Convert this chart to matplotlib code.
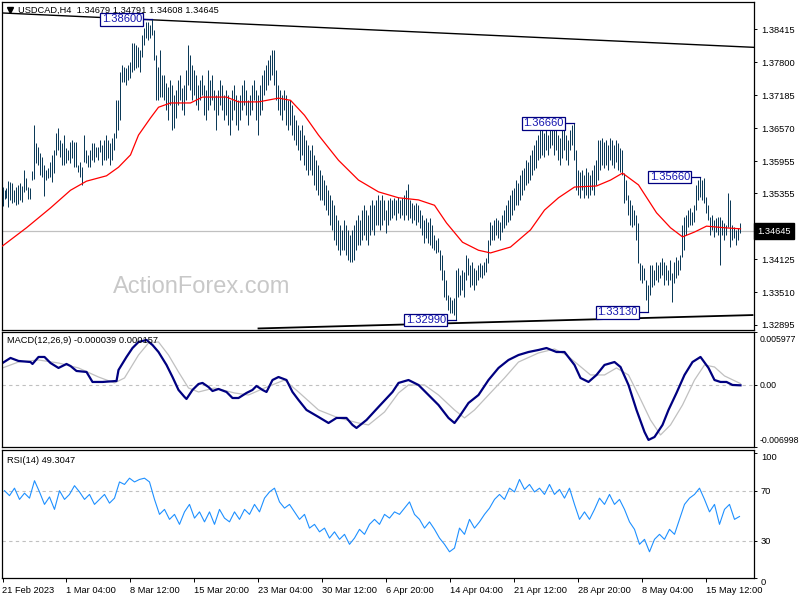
import numpy as np
import matplotlib
matplotlib.use("Agg")
import matplotlib.pyplot as plt
from matplotlib.transforms import blended_transform_factory, ScaledTranslation

plt.rcParams['font.family'] = ['Liberation Sans', 'DejaVu Sans']

symbol_title = "USDCAD,H4  1.34679 1.34791 1.34608 1.34645"
macd_title = "MACD(12,26,9) -0.000039 0.000157"
rsi_title = "RSI(14) 49.3047"
watermark = "ActionForex.com"
last_price = 1.34645

high = [
 1.3547,1.3541,1.3545,1.3558,1.3556,1.3554,1.3541,1.3547,1.3551,1.3554,1.3549,1.3579,1.3564,1.3547,1.3545,1.3577,
 1.3663,1.3629,1.3622,1.3611,1.3603,1.3588,1.3579,1.3583,1.3594,1.3607,1.3616,1.3648,1.3657,1.3635,1.3629,1.3644,
 1.3620,1.3616,1.3631,1.3635,1.3631,1.3631,1.3588,1.3594,1.3584,1.3644,1.3616,1.3607,1.3616,1.3629,1.3629,1.3622,
 1.3622,1.3635,1.3625,1.3635,1.3644,1.3635,1.3629,1.3638,1.3648,1.3709,1.3709,1.3762,1.3775,1.3771,1.3769,1.3775,
 1.3780,1.3816,1.3816,1.3812,1.3808,1.3803,1.3831,1.3844,1.3855,1.3855,1.3850,1.3860,1.3840,1.3794,1.3771,1.3803,
 1.3756,1.3756,1.3741,1.3734,1.3747,1.3737,1.3719,1.3728,1.3747,1.3756,1.3732,1.3737,1.3765,1.3812,1.3794,1.3775,
 1.3765,1.3756,1.3737,1.3747,1.3756,1.3737,1.3728,1.3765,1.3747,1.3756,1.3728,1.3719,1.3728,1.3747,1.3737,1.3719,
 1.3728,1.3719,1.3709,1.3728,1.3737,1.3719,1.3709,1.3719,1.3737,1.3747,1.3728,1.3709,1.3719,1.3737,1.3747,1.3728,
 1.3719,1.3737,1.3756,1.3765,1.3775,1.3784,1.3794,1.3803,1.3803,1.3765,1.3737,1.3728,1.3719,1.3728,1.3719,1.3709,
 1.3709,1.3700,1.3681,1.3672,1.3663,1.3653,1.3663,1.3644,1.3635,1.3625,1.3616,1.3625,1.3607,1.3597,1.3588,1.3579,
 1.3569,1.3560,1.3551,1.3541,1.3532,1.3523,1.3513,1.3495,1.3485,1.3476,1.3467,1.3485,1.3476,1.3467,1.3457,1.3467,
 1.3476,1.3485,1.3495,1.3485,1.3504,1.3513,1.3504,1.3495,1.3513,1.3523,1.3513,1.3523,1.3532,1.3523,1.3532,1.3523,
 1.3504,1.3523,1.3527,1.3523,1.3527,1.3523,1.3528,1.3523,1.3527,1.3532,1.3541,1.3553,1.3523,1.3517,1.3513,1.3517,
 1.3513,1.3504,1.3495,1.3485,1.3489,1.3482,1.3489,1.3476,1.3457,1.3448,1.3452,1.3429,1.3420,1.3392,1.3373,1.3345,
 1.3342,1.3336,1.3340,1.3392,1.3396,1.3383,1.3392,1.3388,1.3420,1.3414,1.3401,1.3407,1.3396,1.3392,1.3401,1.3405,
 1.3401,1.3407,1.3414,1.3448,1.3482,1.3476,1.3485,1.3489,1.3485,1.3482,1.3495,1.3504,1.3513,1.3523,1.3532,1.3541,
 1.3545,1.3560,1.3554,1.3569,1.3579,1.3583,1.3597,1.3594,1.3607,1.3616,1.3625,1.3635,1.3644,1.3653,1.3657,1.3648,
 1.3653,1.3644,1.3657,1.3663,1.3653,1.3657,1.3644,1.3638,1.3653,1.3657,1.3644,1.3635,1.3653,1.3663,1.3666,1.3616,
 1.3579,1.3575,1.3579,1.3569,1.3583,1.3575,1.3569,1.3579,1.3588,1.3597,1.3635,1.3635,1.3638,1.3631,1.3635,1.3625,
 1.3638,1.3635,1.3625,1.3635,1.3629,1.3620,1.3616,1.3573,1.3560,1.3532,1.3523,1.3513,1.3504,1.3495,1.3480,1.3405,
 1.3401,1.3396,1.3373,1.3364,1.3401,1.3401,1.3392,1.3407,1.3401,1.3407,1.3414,1.3407,1.3401,1.3392,1.3411,1.3387,
 1.3407,1.3416,1.3411,1.3420,1.3476,1.3491,1.3495,1.3504,1.3508,1.3500,1.3513,1.3551,1.3560,1.3566,1.3560,1.3564,
 1.3528,1.3513,1.3491,1.3495,1.3485,1.3489,1.3491,1.3491,1.3485,1.3480,1.3476,1.3536,1.3523,1.3476,1.3472,1.3467,
 1.3471,1.34791]

low = [
 1.3512,1.3525,1.3527,1.3510,1.3523,1.3517,1.3519,1.3513,1.3515,1.3523,1.3519,1.3538,1.3541,1.3525,1.3525,1.3560,
 1.3562,1.3592,1.3588,1.3569,1.3566,1.3530,1.3560,1.3564,1.3566,1.3556,1.3573,1.3607,1.3616,1.3603,1.3588,1.3588,
 1.3592,1.3597,1.3592,1.3601,1.3584,1.3584,1.3575,1.3566,1.3551,1.3594,1.3592,1.3584,1.3584,1.3597,1.3594,1.3603,
 1.3597,1.3612,1.3588,1.3597,1.3597,1.3601,1.3588,1.3597,1.3616,1.3638,1.3653,1.3672,1.3743,1.3743,1.3737,1.3747,
 1.3750,1.3762,1.3765,1.3769,1.3771,1.3762,1.3790,1.3812,1.3825,1.3822,1.3825,1.3831,1.3784,1.3709,1.3709,1.3715,
 1.3715,1.3709,1.3691,1.3672,1.3700,1.3653,1.3657,1.3676,1.3700,1.3709,1.3691,1.3681,1.3709,1.3737,1.3728,1.3709,
 1.3719,1.3700,1.3691,1.3709,1.3719,1.3681,1.3672,1.3691,1.3700,1.3709,1.3691,1.3653,1.3681,1.3700,1.3691,1.3672,
 1.3681,1.3663,1.3644,1.3672,1.3691,1.3663,1.3653,1.3672,1.3691,1.3700,1.3681,1.3663,1.3681,1.3691,1.3709,1.3672,
 1.3644,1.3681,1.3691,1.3719,1.3728,1.3737,1.3747,1.3756,1.3737,1.3709,1.3691,1.3681,1.3672,1.3691,1.3663,1.3653,
 1.3663,1.3644,1.3635,1.3625,1.3616,1.3597,1.3607,1.3588,1.3579,1.3569,1.3579,1.3569,1.3551,1.3541,1.3532,1.3523,
 1.3523,1.3513,1.3504,1.3495,1.3476,1.3467,1.3448,1.3439,1.3429,1.3420,1.3429,1.3429,1.3420,1.3411,1.3407,1.3407,
 1.3411,1.3429,1.3439,1.3439,1.3448,1.3457,1.3448,1.3439,1.3457,1.3467,1.3457,1.3476,1.3476,1.3467,1.3476,1.3485,
 1.3461,1.3476,1.3485,1.3489,1.3495,1.3485,1.3499,1.3489,1.3495,1.3485,1.3495,1.3485,1.3489,1.3480,1.3485,1.3476,
 1.3482,1.3471,1.3457,1.3442,1.3452,1.3442,1.3439,1.3433,1.3429,1.3424,1.3426,1.3392,1.3373,1.3342,1.3336,1.3317,
 1.3312,1.3312,1.3308,1.3299,1.3342,1.3345,1.3355,1.3342,1.3373,1.3383,1.3360,1.3364,1.3355,1.3364,1.3373,1.3379,
 1.3377,1.3383,1.3388,1.3405,1.3439,1.3448,1.3448,1.3457,1.3452,1.3448,1.3463,1.3471,1.3476,1.3482,1.3485,1.3495,
 1.3504,1.3513,1.3513,1.3523,1.3532,1.3541,1.3551,1.3554,1.3560,1.3569,1.3579,1.3583,1.3597,1.3601,1.3607,1.3603,
 1.3616,1.3607,1.3620,1.3625,1.3607,1.3616,1.3597,1.3588,1.3601,1.3616,1.3597,1.3588,1.3616,1.3625,1.3597,1.3541,
 1.3532,1.3527,1.3541,1.3527,1.3532,1.3527,1.3532,1.3541,1.3532,1.3551,1.3560,1.3579,1.3588,1.3583,1.3588,1.3579,
 1.3597,1.3588,1.3583,1.3594,1.3579,1.3575,1.3569,1.3517,1.3523,1.3495,1.3476,1.3472,1.3476,1.3448,1.3405,1.3373,
 1.3368,1.3373,1.3336,1.3313,1.3345,1.3360,1.3364,1.3373,1.3370,1.3377,1.3383,1.3364,1.3373,1.3364,1.3373,1.3332,
 1.3368,1.3377,1.3383,1.3392,1.3416,1.3429,1.3457,1.3472,1.3476,1.3476,1.3482,1.3504,1.3523,1.3528,1.3523,1.3517,
 1.3499,1.3485,1.3457,1.3467,1.3454,1.3463,1.3457,1.3401,1.3457,1.3448,1.3457,1.3472,1.3435,1.3448,1.3452,1.3439,
 1.3448,1.34608]

ma_bar = [0,12,24,34,42,52,58,64,68,74,78,84,94,100,112,118,128,138,144,151,
          158,168,178,188,198,208,216,222,230,238,244,254,264,271,278,286,297,304,310,318,
          327,334,340,346,352,361,369]
ma_val = [1.3437,1.3471,1.3508,1.3541,1.3558,1.3568,1.3584,1.3607,1.3644,1.3676,
          1.3696,1.3704,1.3704,1.3715,1.3715,1.3706,1.3706,1.3713,1.3709,1.3681,
          1.3644,1.3597,1.3560,1.3538,1.3527,1.3523,1.3513,1.3480,1.3444,1.3429,
          1.3424,1.3435,1.3467,1.3504,1.3527,1.3547,1.3549,1.3560,1.3573,1.3551,
          1.3499,1.3471,1.3454,1.3463,1.3474,1.3471,1.3469]

macd_bar = [0,4,8,14,15,18,21,24,28,32,34,37,42,45,50,57,58,62,65,68,
            72,75,78,82,85,88,91,92,95,98,100,103,105,108,112,115,118,122,125,127,
            130,132,135,138,142,145,148,152,158,163,167,172,175,177,182,188,195,198,203,208,
            213,218,223,226,229,233,238,243,248,253,258,263,268,272,277,281,286,289,293,297,
            301,306,309,313,317,321,323,326,330,333,337,341,345,349,353,356,359,362,365,369]
macd_val = [0.00248,0.00305,0.00271,0.00259,0.00237,0.00316,0.00316,0.00248,0.00192,0.00237,
            0.00214,0.00158,0.00147,0.00034,0.00034,0.00045,0.00169,0.00316,0.00417,0.00485,
            0.00508,0.00451,0.00372,0.00226,0.00090,-0.00056,-0.00135,-0.00158,-0.00056,0.00011,
            0.00023,-0.00023,-0.00068,-0.00045,-0.00079,-0.00147,-0.00147,-0.00090,-0.00056,-0.00011,
            -0.00056,-0.00079,0.00056,0.00090,0.00056,-0.00079,-0.00169,-0.00282,-0.00361,-0.00429,
            -0.00372,-0.00372,-0.00451,-0.00485,-0.00395,-0.00248,-0.00079,0.00023,0.00056,0.0,
            -0.00113,-0.00226,-0.00372,-0.00429,-0.00338,-0.00203,-0.00113,0.00056,0.00192,0.00282,
            0.00338,0.00372,0.00395,0.00417,0.00372,0.00372,0.00226,0.00079,0.00034,0.00113,
            0.00226,0.00259,0.00203,0.0,-0.00282,-0.00530,-0.00620,-0.00587,-0.00451,-0.00282,
            -0.00090,0.00113,0.00259,0.00316,0.00192,0.00056,0.00034,0.00034,0.0,-0.000039]

sig_bar = [0,8,18,28,38,48,56,61,68,73,78,83,88,93,98,106,116,123,131,141,
           148,158,168,178,183,191,198,203,211,218,226,231,236,243,251,258,268,276,282,288,
           294,301,307,313,318,324,329,334,340,346,351,356,361,369]
sig_val = [0.00192,0.00259,0.00282,0.00248,0.00192,0.00090,0.00023,0.00079,0.00338,0.00474,
           0.00485,0.00338,0.00147,-0.00034,-0.00079,-0.00034,-0.00090,-0.00113,-0.00034,0.00056,
           -0.00079,-0.00282,-0.00372,-0.00429,-0.00451,-0.00305,-0.00090,0.0,0.0,-0.00113,
           -0.00282,-0.00372,-0.00282,-0.00113,0.00079,0.00259,0.00361,0.00406,0.00338,0.00226,
           0.00113,0.00113,0.00192,0.00113,-0.00113,-0.00395,-0.00564,-0.00451,-0.00226,0.00056,
           0.00226,0.00203,0.00102,0.000157]

rsi_val = [70,66,72,63,68,64,78,69,59,65,55,70,63,67,74,69,63,67,59,63,
           67,60,64,77,75,80,77,79,80,77,63,51,55,47,51,43,53,59,48,53,
           45,53,43,55,48,45,53,47,55,51,59,53,64,69,72,61,56,59,53,47,
           51,40,43,37,40,32,37,31,35,27,32,39,35,43,47,43,51,48,53,51,
           56,61,51,47,40,45,39,32,27,21,24,40,35,47,40,45,51,56,63,67,
           63,72,69,79,71,75,69,72,67,75,67,71,64,72,59,47,53,47,55,64,
           59,67,59,63,55,45,39,27,31,21,31,35,31,39,35,47,59,64,67,72,
           63,53,59,43,55,59,47,49.3047]

price_ticks = [1.38415, 1.37800, 1.37185, 1.36570, 1.35955, 1.35355,
               1.34740, 1.34125, 1.33510, 1.32895]
date_labels = ['21 Feb 2023', '1 Mar 04:00', '8 Mar 12:00', '15 Mar 20:00',
               '23 Mar 04:00', '30 Mar 12:00', '6 Apr 20:00', '14 Apr 04:00',
               '21 Apr 12:00', '28 Apr 20:00', '8 May 04:00', '15 May 12:00']
date_bars = [0, 32, 64, 96, 128, 160, 192, 224, 256, 288, 320, 352]

swing_bar = [75, 227, 286, 323, 349]
swing_price = [1.38600, 1.32990, 1.36660, 1.33130, 1.35660]

upper_line = [(0, 1.3872), (369, 1.3809)]
lower_line = [(128, 1.3283), (375, 1.3308)]

macd_levels = [0.005977, 0.0, -0.006998]
rsi_levels = [100, 70, 30, 0]

# ---------------------------------------------------------------
W, H = 800, 600
fig = plt.figure(figsize=(8, 6), dpi=100)
fig.patch.set_facecolor('white')


def rect(x0, y0, x1, y1):
    return [x0 / W, 1 - y1 / H, (x1 - x0) / W, (y1 - y0) / H]


ax = fig.add_axes(rect(2, 2, 754, 330))
axm = fig.add_axes(rect(2, 332, 754, 447))
axr = fig.add_axes(rect(2, 450, 754, 578))

FS = 6.7
BAR_C = '#0c3a58'
for a in (ax, axm, axr):
    a.set_xlim(-0.25, 375.75)
    for s in a.spines.values():
        s.set_color('black')
        s.set_linewidth(0.9)
    a.tick_params(axis='y', left=False, right=True, labelleft=False,
                  labelright=True, direction='out', length=2.5, width=0.7,
                  labelsize=FS, pad=2.5, colors='black')
    a.tick_params(axis='x', bottom=False, labelbottom=False)

# ---- main price panel
n = len(high)
idx = np.arange(n)
ax.set_ylim(1.32801, 1.38925)
ax.set_yticks(price_ticks)
ax.set_yticklabels([f'{v:.5f}' for v in price_ticks])

ax.text(0.265, 0.131, watermark, transform=ax.transAxes, fontsize=17,
        color='#c8c8c8', ha='center', va='center', zorder=0)

ax.axhline(last_price, color='#c0c0c0', lw=0.9, zorder=1)
ax.vlines(idx, low, high, colors=BAR_C, lw=0.72, zorder=3)
ax.plot(ma_bar, ma_val, color='red', lw=0.9, zorder=4)

ax.axline(upper_line[0], upper_line[1], color='black', lw=1.0, zorder=2)
lx = [lower_line[0][0], lower_line[1][0]]
ly = [lower_line[0][1], lower_line[1][1]]
ax.plot(lx, ly, color='black', lw=1.3, zorder=2, clip_on=True)

for b, p in zip(swing_bar, swing_price):
    ax.plot([b - 5, b], [p, p], color='#000080', lw=0.9, zorder=5)
    ax.text(b - 5.3, p, f'{p:.5f}', ha='right', va='center', fontsize=8,
            color='#1515b0', zorder=6,
            bbox=dict(boxstyle='square,pad=0.12', fc='white', ec='#000080', lw=0.9))

tr = blended_transform_factory(ax.transAxes, ax.transData)
ax.text(1.004, last_price, f'{last_price:.5f}', transform=tr, ha='left',
        va='center', color='white', fontsize=FS, clip_on=False, zorder=20,
        bbox=dict(boxstyle='square,pad=0.35', fc='black', ec='black'))

fig.text(18 / W, 1 - 10 / H, symbol_title, fontsize=FS, color='black',
         ha='left', va='center')
ax.plot([0.010], [0.975], marker='v', ms=4, color='black',
        transform=ax.transAxes, clip_on=False)

# ---- MACD panel
axm.set_ylim(-0.006998, 0.005977)
axm.axhline(0, color='#c0c0c0', lw=0.8, ls=(0, (3, 3)))
axm.plot(sig_bar, sig_val, color='#c0c0c0', lw=0.9)
axm.plot(macd_bar, macd_val, color='#000080', lw=1.6)
axm.set_yticks(macd_levels)
axm.set_yticklabels(['0.005977', '0.00', '-0.006998'])
axm.tick_params(axis='y', labelsize=6.3, pad=1.5)
labs = axm.get_yticklabels()
labs[0].set_va('top')
labs[0].set_transform(labs[0].get_transform() +
                      ScaledTranslation(0, -2.5 / 72, fig.dpi_scale_trans))
labs[2].set_va('bottom')
labs[2].set_transform(labs[2].get_transform() +
                      ScaledTranslation(0, 1.5 / 72, fig.dpi_scale_trans))
axm.text(0.007, 0.93, macd_title, transform=axm.transAxes, fontsize=FS,
         ha='left', va='center', color='black')

# ---- RSI panel
axr.set_ylim(0, 102.6)
for lv in (70, 30):
    axr.axhline(lv, color='#c0c0c0', lw=0.8, ls=(0, (3, 3)))
rsi_bar = np.linspace(1, 368.5, len(rsi_val))
axr.plot(rsi_bar, rsi_val, color='#1e90ff', lw=0.8)
axr.set_yticks(rsi_levels)
axr.set_yticklabels([str(v) for v in rsi_levels])
rl = axr.get_yticklabels()
rl[0].set_va('top')
rl[3].set_va('top')
axr.text(0.007, 0.92, rsi_title, transform=axr.transAxes, fontsize=FS,
         ha='left', va='center', color='black')

axr.tick_params(axis='x', bottom=True, labelbottom=True, direction='out',
                length=3, width=0.7, labelsize=FS, pad=3)
axr.set_xticks(date_bars)
axr.set_xticklabels(date_labels)
for t in axr.get_xticklabels():
    t.set_ha('left')

fig.savefig('out.png', dpi=100, facecolor='white')
